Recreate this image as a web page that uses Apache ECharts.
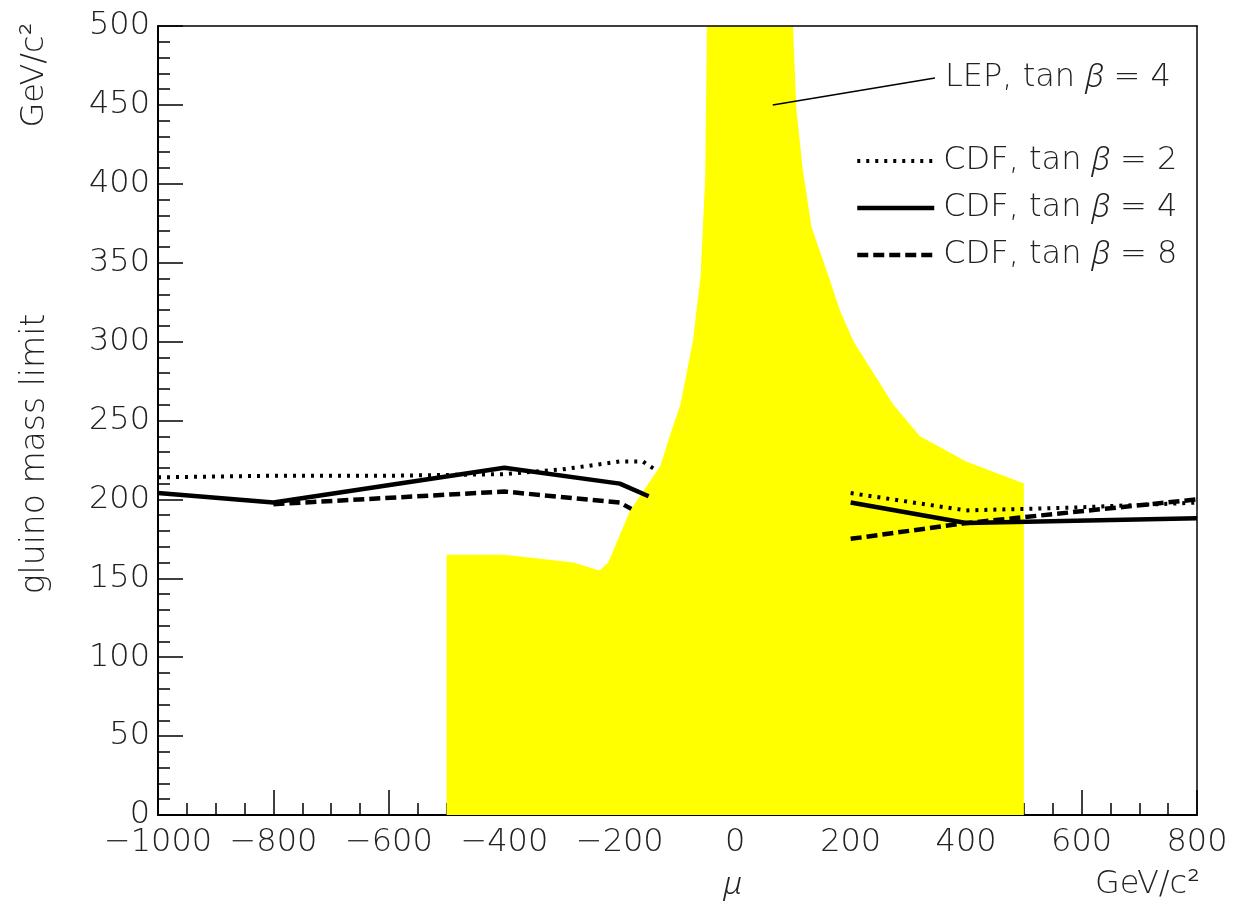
<!DOCTYPE html>
<html><head><meta charset="utf-8">
<script src="https://cdn.jsdelivr.net/npm/echarts@6/dist/echarts.min.js"></script>
<style>html,body{margin:0;padding:0;background:#fff}#c{width:1236px;height:913px}</style>
</head><body><div id="c"></div><script>
// ---- data ----
const lepRegion = [[-500,0],[-500,165],[-400,165],[-280,160],[-235,155],[-220,160],[-182,193],[-130,221],[-110,244],[-95,260],[-73,301],[-67,320],[-60,341],[-52,404],[-49,500],
                   [100,500],[106,447],[117,409],[132,373],[143,361],[164,339],[181,320],[205,300],[274,260],[320,240],[400,224],[500,210],[500,0]];
const cdf2Left  = [[-1000,214],[-800,215],[-600,215],[-400,216],[-300,219],[-200,224],[-160,224],[-135,218]];
const cdf2Right = [[200,204],[400,193],[500,194],[600,195],[800,198]];
const cdf4Left  = [[-1000,204],[-800,198],[-400,220],[-200,210],[-150,202]];
const cdf4Right = [[200,198],[400,185],[800,188]];
const cdf8Left  = [[-800,197],[-400,205],[-200,198],[-180,194]];
const cdf8Right = [[200,175],[400,185],[800,200]];
const lepPointer = [[65,450],[346,467]];
const seriesNames = ['CDF, tan β = 2','CDF, tan β = 4','CDF, tan β = 8'];
const lepName = 'LEP, tan β = 4';
const xMin=-1000, xMax=800, xStep=200;
const yMin=0, yMax=500, yStep=50;
// ---- styles ----
const FONT = '"DejaVu Sans"';
const IFONT = '"Noto Sans", "Lato", "DejaVu Sans"';
const FW = 200;
const FS = 32;
const TXT = {fontFamily: FONT, fontWeight: FW, fontSize: FS, color: '#222'};
const dotted = {color: '#000', width: 4, type: [3, 6], cap: 'butt'};
const solid = {color: '#000', width: 4.5, type: 'solid'};
const dashed = {color: '#000', width: 4.5, type: [11, 5], cap: 'butt'};
const gap = [['-','-']];
const chart = echarts.init(document.getElementById('c'), null, {renderer:'canvas'});
const minus = v => String(v).replace('-', '\u2212');
const betaRich = {b: {fontFamily: IFONT, fontWeight: 300, fontSize: FS, fontStyle: 'italic', color: '#222'}};
const richName = n => n.replace('β', '{b|β}');
const font = (extra) => (extra ? extra + ' ' : '') + FW + ' ' + FS + 'px ' + FONT;
chart.setOption({
  animation: false,
  backgroundColor: '#fff',
  grid: {left: 158, right: 39, top: 26, bottom: 98, containLabel: false},
  xAxis: [{
    type: 'value', min: xMin, max: xMax, interval: xStep, z: 0,
    axisLine: {onZero: false, lineStyle: {color: '#000', width: 2}},
    axisTick: {inside: true, length: 25, lineStyle: {color: '#000', width: 1.5}},
    minorTick: {show: true, splitNumber: 4, length: 12, lineStyle: {color: '#000', width: 1.5}},
    splitLine: {show: false},
    axisLabel: Object.assign({}, TXT, {margin: 12, formatter: minus, showMinLabel: true, showMaxLabel: true})
  },{
    type: 'value', min: xMin, max: xMax, position: 'top', z: 10,
    axisLine: {onZero: false, lineStyle: {color: '#000', width: 1.5}},
    axisTick: {show: false}, axisLabel: {show: false}, splitLine: {show: false}
  }],
  yAxis: [{
    type: 'value', min: yMin, max: yMax, interval: yStep, z: 0,
    axisLine: {show: true, onZero: false, lineStyle: {color: '#000', width: 2}},
    axisTick: {inside: true, length: 25, lineStyle: {color: '#000', width: 1.5}},
    minorTick: {show: true, splitNumber: 5, length: 12, lineStyle: {color: '#000', width: 1.5}},
    splitLine: {show: false},
    axisLabel: Object.assign({}, TXT, {margin: 8})
  },{
    type: 'value', min: yMin, max: yMax, position: 'right', z: 10,
    axisLine: {show: true, onZero: false, lineStyle: {color: '#000', width: 1.5}},
    axisTick: {show: false}, axisLabel: {show: false}, splitLine: {show: false}
  }],
  legend: {
    data: [
      {name: seriesNames[0], lineStyle: dotted},
      {name: seriesNames[1], lineStyle: solid},
      {name: seriesNames[2], lineStyle: dashed}
    ],
    orient: 'vertical', left: 850, top: 140, itemGap: 15,
    itemWidth: 77, itemHeight: 16,
    itemStyle: {opacity: 0},
    formatter: richName,
    textStyle: Object.assign({}, TXT, {lineHeight: 32, padding: [0,0,0,4], rich: betaRich})
  },
  graphic: [
    {type: 'text', x: 35, y: 454, rotation: Math.PI/2, style: {text: 'gluino mass limit', align: 'center', verticalAlign: 'middle', font: '200 33px ' + FONT, fill: '#222'}},
    {type: 'text', x: 35, y: 75, rotation: Math.PI/2, style: {text: 'GeV/c²', align: 'center', verticalAlign: 'middle', font: font(), fill: '#222'}},
    {type: 'text', x: 733, y: 885, style: {text: 'μ', align: 'center', verticalAlign: 'middle', font: 'italic 300 ' + FS + 'px ' + IFONT, fill: '#222'}},
    {type: 'text', x: 1200, y: 885, style: {text: 'GeV/c²', align: 'right', verticalAlign: 'middle', font: font(), fill: '#222'}}
  ],
  series: [
    {
      name: 'LEP', type: 'custom', z: 1, silent: true,
      data: lepRegion,
      renderItem: function (params, api) {
        if (params.dataIndex !== 0) return null;
        const pts = lepRegion.map(p => api.coord(p));
        return {type: 'polygon', shape: {points: pts}, style: {fill: '#ffff00', stroke: null}};
      }
    },
    {
      name: seriesNames[0], type: 'line', z: 3, symbol: 'none', showSymbol: false, connectNulls: false,
      data: cdf2Left.concat(gap, cdf2Right), lineStyle: dotted, itemStyle: {color: '#000'}
    },
    {
      name: seriesNames[1], type: 'line', z: 3, symbol: 'none', showSymbol: false, connectNulls: false,
      data: cdf4Left.concat(gap, cdf4Right), lineStyle: solid, itemStyle: {color: '#000'}
    },
    {
      name: seriesNames[2], type: 'line', z: 3, symbol: 'none', showSymbol: false, connectNulls: false,
      data: cdf8Left.concat(gap, cdf8Right), lineStyle: dashed, itemStyle: {color: '#000'}
    },
    {
      name: 'LEP pointer', type: 'line', z: 4, symbol: 'none', showSymbol: false, silent: true,
      data: lepPointer,
      lineStyle: {color: '#000', width: 1.5},
      endLabel: Object.assign({show: true, distance: 10, formatter: richName(lepName), rich: betaRich}, TXT)
    }
  ]
});
</script></body></html>
